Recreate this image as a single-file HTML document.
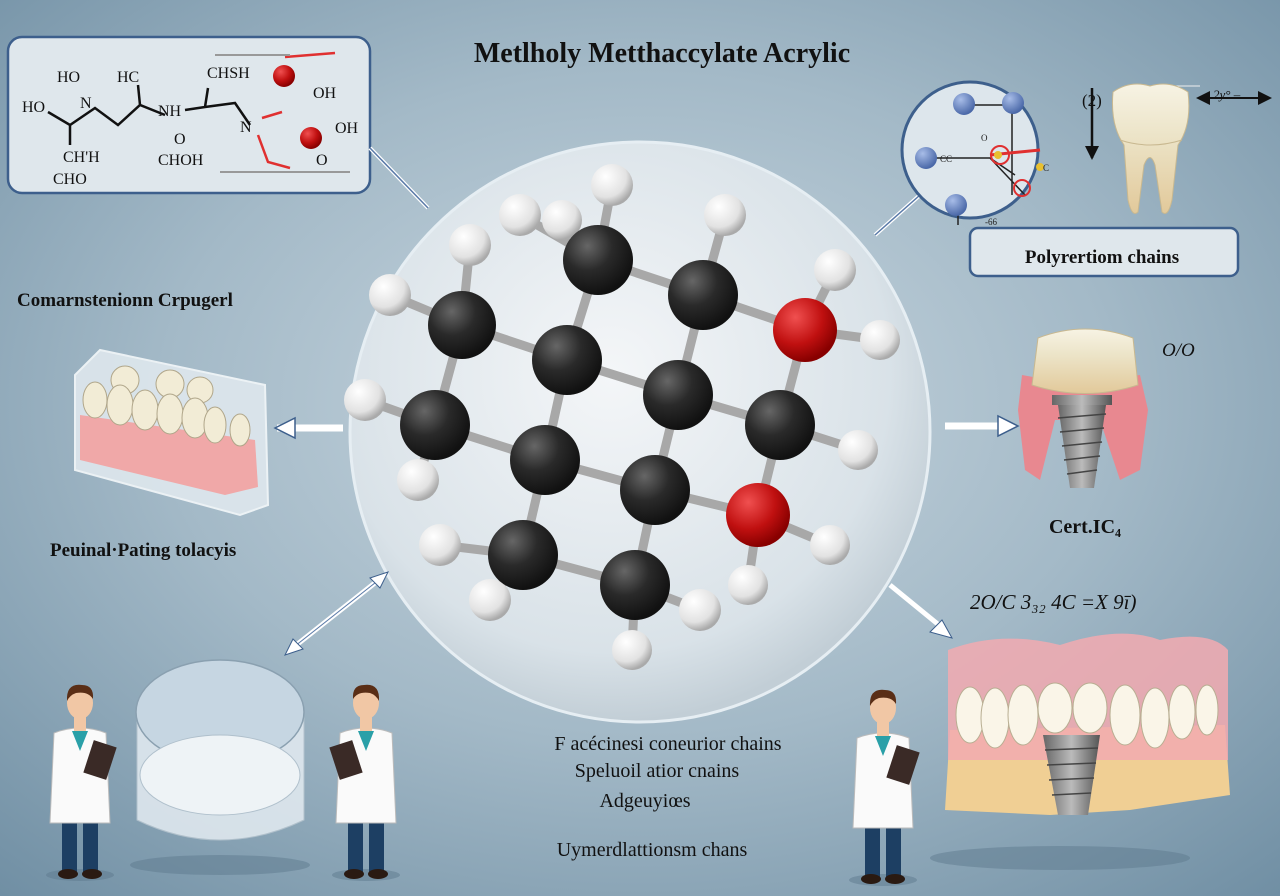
<!DOCTYPE html>
<html><head><meta charset="utf-8"><style>
html,body{margin:0;padding:0;width:1280px;height:896px;overflow:hidden}
svg{display:block}
text{font-family:"Liberation Serif",serif}
.s{font-family:"Liberation Sans",sans-serif}
</style></head><body>
<svg width="1280" height="896" viewBox="0 0 1280 896" xmlns="http://www.w3.org/2000/svg">
<defs>
<radialGradient id="bg" cx="0.5" cy="0.45" r="0.75">
<stop offset="0" stop-color="#c9d7e0"/><stop offset="0.5" stop-color="#a3b9c7"/><stop offset="1" stop-color="#6f8ea3"/></radialGradient>
<radialGradient id="circ" cx="0.45" cy="0.4" r="0.6">
<stop offset="0" stop-color="#f4f6f8"/><stop offset="0.8" stop-color="#d9e2e8"/><stop offset="1" stop-color="#c2ced6"/></radialGradient>
<radialGradient id="cb" cx="0.35" cy="0.3" r="0.7"><stop offset="0" stop-color="#666"/><stop offset="0.5" stop-color="#2a2a2a"/><stop offset="1" stop-color="#111"/></radialGradient>
<radialGradient id="rb" cx="0.35" cy="0.3" r="0.7"><stop offset="0" stop-color="#f05050"/><stop offset="0.6" stop-color="#c01010"/><stop offset="1" stop-color="#800"/></radialGradient>
<radialGradient id="wb" cx="0.35" cy="0.3" r="0.7"><stop offset="0" stop-color="#fff"/><stop offset="0.7" stop-color="#e2e2e2"/><stop offset="1" stop-color="#aaa"/></radialGradient>
<radialGradient id="bb" cx="0.35" cy="0.3" r="0.7"><stop offset="0" stop-color="#a8bde8"/><stop offset="1" stop-color="#4a68a8"/></radialGradient>
<linearGradient id="tooth" x1="0" y1="0" x2="0" y2="1"><stop offset="0" stop-color="#f7f3e4"/><stop offset="0.4" stop-color="#ece4c8"/><stop offset="1" stop-color="#e2c99a"/></linearGradient>
<linearGradient id="metal" x1="0" y1="0" x2="1" y2="0"><stop offset="0" stop-color="#666"/><stop offset="0.5" stop-color="#bbb"/><stop offset="1" stop-color="#555"/></linearGradient>
<marker id="ah" markerUnits="userSpaceOnUse" markerWidth="14" markerHeight="14" refX="12" refY="7" orient="auto-start-reverse"><path d="M0,0 L14,7 L0,14 z" fill="#111"/></marker>
<g id="person">
<ellipse cx="0" cy="172" rx="34" ry="6" fill="#5d7a8d" opacity="0.5"/>
<rect x="-18" y="112" width="15" height="58" fill="#1d3f63"/><rect x="3" y="112" width="15" height="58" fill="#1d3f63"/>
<ellipse cx="-12" cy="171" rx="10" ry="5" fill="#2a1a12"/><ellipse cx="12" cy="171" rx="10" ry="5" fill="#2a1a12"/>
<path d="M-26,30 Q0,20 26,30 L30,120 L-30,120 Z" fill="#fafafa" stroke="#bbb" stroke-width="1"/>
<path d="M-8,28 L0,48 L8,28 Z" fill="#2aa0a8"/>
<rect x="-6" y="14" width="12" height="14" fill="#f1c7a5"/>
<ellipse cx="0" cy="0" rx="13" ry="16" fill="#f1c7a5"/>
<path d="M-13,-2 Q-14,-20 2,-18 Q14,-18 13,-4 Q8,-12 -4,-10 Q-10,-8 -13,-2 Z" fill="#5a2e16"/>
<rect x="8" y="40" width="24" height="34" fill="#3a2a26" transform="rotate(18 20 57)"/>
</g>
</defs>
<rect width="1280" height="896" fill="url(#bg)"/>

<text x="662" y="62" font-size="28" font-weight="bold" text-anchor="middle" fill="#111">Metlholy Metthaccylate Acrylic</text>

<!-- top-left box -->
<rect x="8" y="37" width="362" height="156" rx="14" fill="#dfe7ec" stroke="#3d5f8c" stroke-width="2.5"/>
<g class="s" font-size="16" fill="#111" font-family="Liberation Sans">
<text x="57" y="82">HO</text><text x="117" y="82">HC</text><text x="207" y="78">CHSH</text>
<text x="22" y="112">HO</text><text x="80" y="108">N</text><text x="158" y="116">NH</text>
<text x="63" y="162">CH'H</text><text x="53" y="184">CHO</text><text x="158" y="165">CHOH</text><text x="174" y="144">O</text>
<text x="240" y="132">N</text><text x="313" y="98">OH</text><text x="335" y="133">OH</text><text x="316" y="165">O</text>
</g>
<path d="M48,112 L70,125 L95,108 L118,125 L140,105 L165,115 M140,105 L138,85 M70,125 L70,145 M185,110 L205,107 L235,103 L250,125 M205,107 L208,88" stroke="#111" stroke-width="2.5" fill="none"/>
<path d="M285,57 L335,53 M262,118 L282,112 M258,135 L268,162 L290,168" stroke="#e03030" stroke-width="2.5" fill="none"/>
<path d="M215,55 L290,55 M220,172 L350,172" stroke="#999" stroke-width="2" fill="none"/>
<circle cx="284" cy="76" r="11" fill="url(#rb)"/><circle cx="311" cy="138" r="11" fill="url(#rb)"/>

<!-- connector lines -->
<path d="M370,148 L428,208" stroke="#fff" stroke-width="4"/><path d="M370,148 L428,208" stroke="#5a7aa8" stroke-width="1.5"/>
<path d="M875,235 L920,195" stroke="#fff" stroke-width="4"/><path d="M875,235 L920,195" stroke="#5a7aa8" stroke-width="1.5"/>

<!-- central circle -->
<circle cx="640" cy="432" r="290" fill="url(#circ)" stroke="#e6eef3" stroke-width="3"/>
<g stroke="#a8a8a8" stroke-width="9" stroke-linecap="round" fill="none">
<path d="M462,325 L567,360 L598,260 L703,295 L678,395 L567,360 M678,395 L780,425 L805,330 L703,295 M780,425 L758,515 L655,490 L678,395 M655,490 L545,460 L567,360 M545,460 L435,425 L462,325 M545,460 L523,555 L635,585 L655,490"/>
<path d="M598,260 L612,185 M598,260 L520,215 M598,260 L562,220 M703,295 L725,215 M462,325 L470,245 M462,325 L390,295 M805,330 L835,270 M805,330 L880,340 M435,425 L365,400 M780,425 L858,450 M435,425 L418,480 M523,555 L440,545 M758,515 L830,545 M523,555 L490,600 M635,585 L700,610 M635,585 L632,650 M758,515 L748,585"/>
</g>
<g fill="url(#wb)">
<circle cx="612" cy="185" r="21"/><circle cx="520" cy="215" r="21"/><circle cx="562" cy="220" r="20"/><circle cx="725" cy="215" r="21"/><circle cx="470" cy="245" r="21"/><circle cx="390" cy="295" r="21"/><circle cx="835" cy="270" r="21"/><circle cx="880" cy="340" r="20"/><circle cx="365" cy="400" r="21"/><circle cx="858" cy="450" r="20"/><circle cx="418" cy="480" r="21"/><circle cx="440" cy="545" r="21"/><circle cx="830" cy="545" r="20"/><circle cx="490" cy="600" r="21"/><circle cx="700" cy="610" r="21"/><circle cx="632" cy="650" r="20"/><circle cx="748" cy="585" r="20"/>
</g>
<g fill="url(#cb)">
<circle cx="462" cy="325" r="34"/><circle cx="567" cy="360" r="35"/><circle cx="598" cy="260" r="35"/><circle cx="703" cy="295" r="35"/><circle cx="678" cy="395" r="35"/><circle cx="780" cy="425" r="35"/><circle cx="545" cy="460" r="35"/><circle cx="655" cy="490" r="35"/><circle cx="435" cy="425" r="35"/><circle cx="523" cy="555" r="35"/><circle cx="635" cy="585" r="35"/>
</g>
<circle cx="805" cy="330" r="32" fill="url(#rb)"/><circle cx="758" cy="515" r="32" fill="url(#rb)"/>

<!-- top-right -->
<rect x="970" y="228" width="268" height="48" rx="8" fill="#dfe7ec" stroke="#3d5f8c" stroke-width="2.5"/>
<text x="1102" y="263" font-size="19" font-weight="bold" text-anchor="middle" fill="#111">Polyrertiom chains</text>
<circle cx="970" cy="150" r="68" fill="#dde6ec" stroke="#3d5f8c" stroke-width="3"/>
<g stroke="#222" stroke-width="1.5" fill="none">
<path d="M962,105 L1012,105 M1012,105 L1012,195 M925,158 L990,158 L1025,195 M990,158 L1015,175 M958,205 L958,225"/>
<path d="M990,155 L1040,150" stroke="#e03030" stroke-width="3"/>
<circle cx="1000" cy="155" r="9" stroke="#e03030" stroke-width="2"/>
<circle cx="1022" cy="188" r="8" stroke="#e03030" stroke-width="2"/>
</g>
<circle cx="964" cy="104" r="11" fill="url(#bb)"/><circle cx="1013" cy="103" r="11" fill="url(#bb)"/><circle cx="926" cy="158" r="11" fill="url(#bb)"/><circle cx="956" cy="205" r="11" fill="url(#bb)"/>
<circle cx="998" cy="155" r="4" fill="#e8c030"/><circle cx="1040" cy="167" r="4" fill="#e8c030"/>
<g class="s" font-size="9" fill="#222" font-family="Liberation Sans"><text x="940" y="162">CC</text><text x="981" y="141">O</text><text x="1043" y="171">C</text><text x="985" y="225">-66</text></g>
<text x="1082" y="106" font-size="17" fill="#111">(2)</text>
<text x="1213" y="99" font-size="13" fill="#111" font-style="italic">2y° –</text>
<path d="M1152,86 L1200,86" stroke="#eee" stroke-width="1"/>
<path d="M1092,88 L1092,158" stroke="#111" stroke-width="2.5" marker-end="url(#ah)"/>
<path d="M1198,98 L1270,98" stroke="#111" stroke-width="2" marker-start="url(#ah)" marker-end="url(#ah)"/>
<path d="M1113,92 Q1130,80 1150,86 Q1170,80 1188,92 Q1192,125 1178,145 L1172,200 Q1168,218 1162,212 L1155,165 Q1150,150 1144,165 L1138,212 Q1132,218 1128,200 L1124,145 Q1110,125 1113,92 Z" fill="url(#tooth)" stroke="#c8b890"/>
<path d="M1120,140 Q1150,150 1182,140" stroke="#c8b890" fill="none"/>

<!-- left -->
<text x="17" y="306" font-size="19" font-weight="bold" fill="#111">Comarnstenionn Crpugerl</text>
<path d="M75,375 L100,350 L265,385 L268,505 L240,515 L75,470 Z" fill="#dfe8ee" stroke="#f4f8fa" stroke-width="2" opacity="0.9"/>
<path d="M80,415 L255,440 L258,487 L225,495 L80,460 Z" fill="#f0a8a8"/>
<g fill="#f2ecd6" stroke="#b0a68a" stroke-width="1">
<ellipse cx="125" cy="380" rx="14" ry="14"/><ellipse cx="170" cy="384" rx="14" ry="14"/><ellipse cx="200" cy="390" rx="13" ry="13"/>
<ellipse cx="95" cy="400" rx="12" ry="18"/><ellipse cx="120" cy="405" rx="13" ry="20"/><ellipse cx="145" cy="410" rx="13" ry="20"/><ellipse cx="170" cy="414" rx="13" ry="20"/><ellipse cx="195" cy="418" rx="13" ry="20"/><ellipse cx="215" cy="425" rx="11" ry="18"/><ellipse cx="240" cy="430" rx="10" ry="16"/>
</g>
<path d="M277,428 L343,428" stroke="#fff" stroke-width="7"/><path d="M275,428 L295,418 L295,438 Z" fill="#fff" stroke="#3d5f8c" stroke-width="1.5"/>
<text x="50" y="556" font-size="19" font-weight="bold" fill="#111">Peuinal·Pating tolacyis</text>

<!-- right middle -->
<path d="M945,426 L1008,426" stroke="#fff" stroke-width="7"/><path d="M1018,426 L998,416 L998,436 Z" fill="#fff" stroke="#3d5f8c" stroke-width="1.5"/>
<path d="M1022,375 L1050,380 L1095,380 L1140,375 L1148,410 L1140,470 L1120,480 L1100,420 L1055,420 L1040,480 L1025,470 L1018,410 Z" fill="#e88890"/>
<path d="M1038,338 Q1085,320 1133,338 L1138,385 Q1085,402 1032,385 Z" fill="url(#tooth)" stroke="#c8b890"/>
<rect x="1052" y="395" width="60" height="10" fill="url(#metal)"/>
<path d="M1058,405 L1106,405 L1094,488 L1070,488 Z" fill="url(#metal)"/>
<g stroke="#444" stroke-width="1.5"><path d="M1058,418 L1106,414 M1060,432 L1104,428 M1062,446 L1102,442 M1064,460 L1100,456 M1067,474 L1097,470"/></g>
<text x="1162" y="356" font-size="19" font-style="italic" fill="#111">O/O</text>
<text x="1085" y="533" font-size="20" font-weight="bold" text-anchor="middle" fill="#111">Cert.IC₄</text>

<!-- diagonal arrows -->
<path d="M290,650 L385,575" stroke="#fff" stroke-width="5"/><path d="M290,650 L385,575" stroke="#5a7aa8" stroke-width="1"/>
<path d="M388,572 L370,578 L380,588 Z" fill="#fff" stroke="#3d5f8c"/><path d="M285,655 L303,649 L293,639 Z" fill="#fff" stroke="#3d5f8c"/>
<path d="M890,585 L945,630" stroke="#fff" stroke-width="5"/><path d="M952,638 L930,632 L942,620 Z" fill="#fff" stroke="#3d5f8c"/>
<text x="970" y="609" font-size="21" font-style="italic" fill="#111">2O/C 3₃₂ 4C =X 9ī)</text>

<!-- denture -->
<ellipse cx="1060" cy="858" rx="130" ry="12" fill="#5d7a8d" opacity="0.5"/>
<path d="M950,730 L1225,725 L1230,795 L1130,810 L1050,815 L945,810 Z" fill="#f0cf94"/>
<path d="M948,650 Q1000,630 1060,645 Q1120,625 1160,640 Q1210,630 1228,650 L1228,760 L948,760 Z" fill="#f2aab0" opacity="0.85"/>
<g fill="#faf5e8" stroke="#b8ae92" stroke-width="1">
<ellipse cx="970" cy="715" rx="14" ry="28"/><ellipse cx="995" cy="718" rx="14" ry="30"/><ellipse cx="1023" cy="715" rx="15" ry="30"/><ellipse cx="1055" cy="708" rx="17" ry="25"/><ellipse cx="1090" cy="708" rx="17" ry="25"/><ellipse cx="1125" cy="715" rx="15" ry="30"/><ellipse cx="1155" cy="718" rx="14" ry="30"/><ellipse cx="1182" cy="712" rx="13" ry="27"/><ellipse cx="1207" cy="710" rx="11" ry="25"/>
</g>
<path d="M1043,735 L1100,735 L1088,815 L1058,815 Z" fill="url(#metal)"/>
<g stroke="#444" stroke-width="1.5"><path d="M1045,750 L1098,748 M1047,765 L1096,763 M1049,780 L1094,778 M1052,795 L1091,793"/></g>

<!-- dish -->
<ellipse cx="220" cy="865" rx="90" ry="10" fill="#5d7a8d" opacity="0.5"/>
<path d="M137,710 L137,820 Q220,860 304,820 L304,710 Z" fill="#e4ecf2" stroke="#b8c6d0" opacity="0.85"/>
<ellipse cx="220" cy="712" rx="84" ry="52" fill="#c6d6e2" stroke="#8aa0b0" stroke-width="1.5"/>
<ellipse cx="220" cy="775" rx="80" ry="40" fill="#eef3f6" stroke="#b0c0cc"/>

<use href="#person" transform="translate(80,703)"/>
<use href="#person" transform="translate(366,703) scale(-1,1)"/>
<use href="#person" transform="translate(883,708)"/>

<g font-size="20" text-anchor="middle" fill="#111">
<text x="668" y="750">F acécinesi coneurior chains</text>
<text x="657" y="777">Speluoil atior cnains</text>
<text x="645" y="807">Adgeuyiœs</text>
<text x="652" y="856">Uymerdlattionsm chans</text>
</g>
</svg>
</body></html>
